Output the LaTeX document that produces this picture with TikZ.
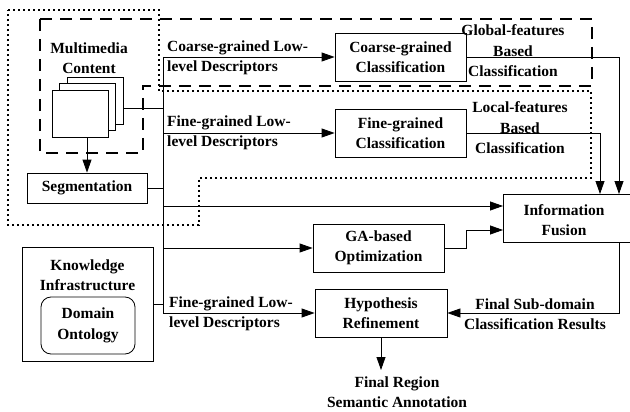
\documentclass[tikz,border=0pt]{standalone}
\usepackage{fontspec}
\setmainfont{Liberation Serif}
\usetikzlibrary{arrows.meta}
\newcommand\lblfont{\fontsize{15.5}{20.5}\selectfont\bfseries}
\begin{document}
\begin{tikzpicture}[x=1pt,y=-1pt,
  thin line/.style={line width=0.8pt},
  boxnode/.style={draw,thin line,inner sep=0pt,align=center,font=\lblfont},
  lbl/.style={inner sep=0pt,align=center,font=\lblfont},
  lbll/.style={inner sep=0pt,align=left,font=\lblfont,anchor=west},
  page/.style={draw,thin line,fill=white,minimum width=56pt,minimum height=47pt,inner sep=0pt},
  conn/.style={draw,thin line},
  arr/.style={conn,-{Triangle[length=13pt,width=9pt]}},
  dashline/.style={line width=1.8pt,dash pattern=on 12pt off 8pt},
  dotline/.style={line width=1.8pt,dash pattern=on 2pt off 3pt}]
\useasboundingbox (0,0) rectangle (630,412);
% grouping outlines
\draw[dotline] (8,10) -- (159,10) -- (159,91) -- (591,91) -- (591,178) -- (199,178) -- (199,225) -- (8,225) -- cycle;
\draw[dashline] (40,19) -- (592,19) -- (592,86) -- (143,86) -- (143,153) -- (40,153) -- cycle;
% multimedia content
\node[lbl] (mmtitle) at (89,58) {Multimedia\\Content};
\node[page] (back) at (95,100.5) {};
\node[page] (middle) at (87.5,107) {};
\node[page] (front) at (80,113.5) {};
\coordinate (mmout) at (123,108);
% boxes
\node[boxnode,minimum width=120pt,minimum height=30pt] (seg) at (87,188) {Segmentation};
\node[boxnode,minimum width=131pt,minimum height=48pt] (coarse) at (400.5,57) {Coarse-grained\\Classification};
\node[boxnode,minimum width=131pt,minimum height=48pt] (fine) at (400.5,133) {Fine-grained\\Classification};
\node[boxnode,minimum width=131pt,minimum height=48pt] (ga) at (378.5,248) {GA-based\\Optimization};
\node[boxnode,minimum width=132pt,minimum height=48pt] (hyp) at (381,313) {Hypothesis\\Refinement};
\node[draw,thin line,minimum width=140pt,minimum height=48pt,inner sep=0pt,anchor=north west] (fusion) at (503,194) {};
\node[lbl] (fusiontext) at (564,220) {Information\\Fusion};
\node[draw,thin line,minimum width=131pt,minimum height=114pt,inner sep=0pt] (know) at (87.5,304) {};
\node[lbl] (knowtitle) at (87.5,275) {Knowledge\\Infrastructure};
\node[boxnode,rounded corners=10pt,minimum width=94pt,minimum height=57pt] (onto) at (88,325.5) {Domain\\Ontology};
% labels
\node[lbll] (coarselbl) at (167,58) {Coarse-grained Low-\\level Descriptors};
\node[lbll] (finelbl) at (167,133) {Fine-grained Low-\\level Descriptors};
\node[lbll] (finelbl2) at (169,314) {Fine-grained Low-\\level Descriptors};
\node[lbl] (globallbl) at (513,51) {Global-features\\Based\\Classification};
\node[lbl] (locallbl) at (520,128) {Local-features\\Based\\Classification};
\node[lbl] (finallbl) at (535,314) {Final Sub-domain\\Classification Results};
\coordinate (annot) at (381,370);
\node[lbl] (annotlbl) at (397,392) {Final Region\\Semantic Annotation};
% bus
\coordinate (bustop) at (163,57);
\coordinate (busbot) at (163,313);
\draw[conn] (bustop) -- (busbot);
% connectors
\draw[arr] (front.south -| seg.north) -- (seg.north);
\draw[conn] (mmout) -- (mmout -| bustop);
\draw[conn] (seg.east) -- (seg.east -| bustop);
\draw[conn] (know.east) -- (know.east -| bustop);
\draw[arr] (bustop) -- (coarse.west);
\draw[arr] (fine.west -| bustop) -- (fine.west);
\coordinate (fusin1) at (503,206);
\coordinate (fusin2) at (503,230);
\draw[arr] (fusin1 -| bustop) -- (fusin1);
\draw[arr] (ga.west -| bustop) -- (ga.west);
\draw[arr] (busbot) -- (hyp.west);
\draw[arr] (coarse.east) -- (619,57) -- (fusion.north west -| 619,0);
\draw[arr] (fine.east) -- (600,133) -- (fusion.north west -| 600,0);
\draw[arr] (ga.east) -- (466,248) -- (466,230) -- (fusin2);
\draw[arr] (fusion.south west -| 619,0) -- (619,313) -- (hyp.east);
\draw[arr] (hyp.south) -- (annot);
\end{tikzpicture}
\end{document}
